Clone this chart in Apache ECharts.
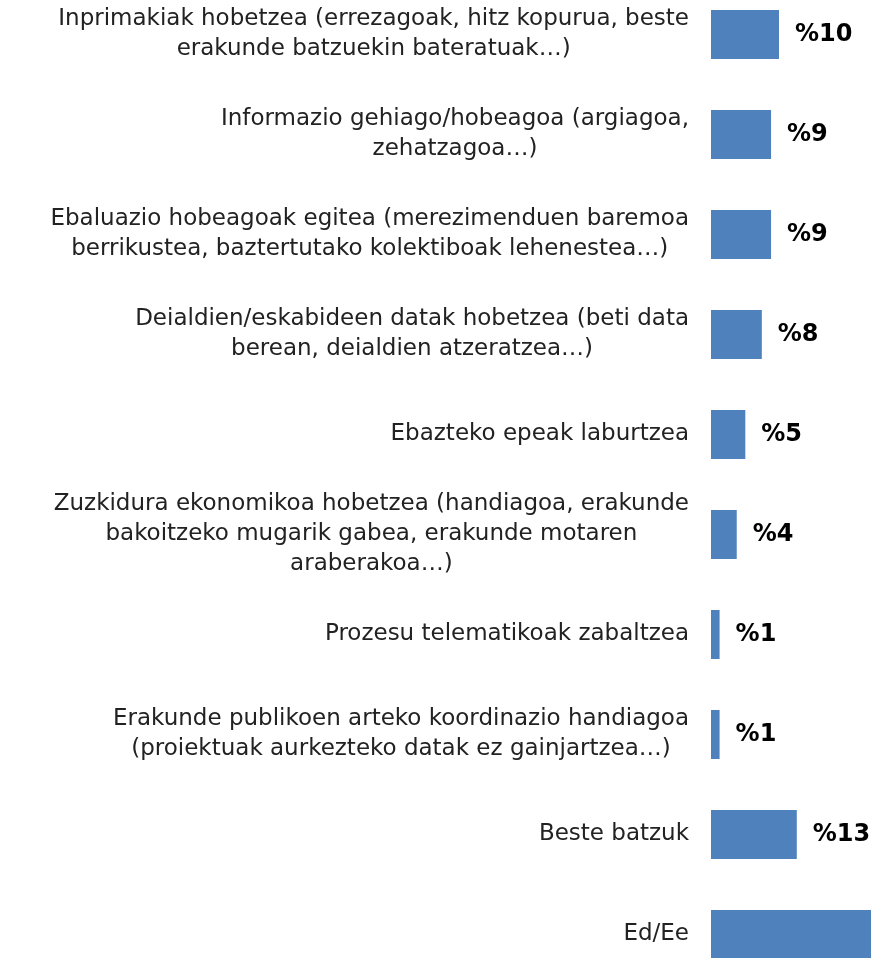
<!DOCTYPE html>
<html>
<head>
<meta charset="utf-8">
<script src="https://cdn.jsdelivr.net/npm/echarts@6/dist/echarts.min.js"></script>
<style>
  html, body { margin: 0; padding: 0; background: #fff; }
  #chart { width: 871px; height: 958px; }
</style>
</head>
<body>
<div id="chart"></div>
<script>
const categories = [
  "Inprimakiak hobetzea (errezagoak, hitz kopurua, beste\nerakunde batzuekin bateratuak…)",
  "Informazio gehiago/hobeagoa (argiagoa,\nzehatzagoa…)",
  "Ebaluazio hobeagoak egitea (merezimenduen baremoa\nberrikustea, baztertutako kolektiboak lehenestea…)",
  "Deialdien/eskabideen datak hobetzea (beti data\nberean, deialdien atzeratzea…)",
  "Ebazteko epeak laburtzea",
  "Zuzkidura ekonomikoa hobetzea (handiagoa, erakunde\nbakoitzeko mugarik gabea, erakunde motaren\naraberakoa…)",
  "Prozesu telematikoak zabaltzea",
  "Erakunde publikoen arteko koordinazio handiagoa\n(proiektuak aurkezteko datak ez gainjartzea…)",
  "Beste batzuk",
  "Ed/Ee"
];
const values = [10.3, 9.1, 9.1, 7.7, 5.2, 3.9, 1.3, 1.3, 13.0, 26];

const chart = echarts.init(document.getElementById("chart"));

chart.setOption({
  animation: false,
  grid: {
    left: 711, top: -15.5, width: 198, height: 1000,
    containLabel: false, outerBoundsMode: "none"
  },
  xAxis: {
    type: "value",
    min: 0,
    max: 30,
    show: false
  },
  yAxis: {
    type: "category",
    inverse: true,
    data: categories,
    axisLine: { show: false },
    axisTick: { show: false },
    splitLine: { show: false },
    axisLabel: {
      align: "right",
      margin: 22,
      formatter: (v) => v.split("\n").map((l) => "{c|" + l + "}").join("\n"),
      rich: {
        c: {
          align: "center",
          fontFamily: "DejaVu Sans",
          fontSize: 23,
          lineHeight: 30,
          color: "#222"
        }
      }
    }
  },
  series: [{
    type: "bar",
    data: values,
    barWidth: 49,
    itemStyle: { color: "#4f81bd" },
    label: {
      show: true,
      position: "right",
      distance: 16,
      fontFamily: "DejaVu Sans",
      fontWeight: "bold",
      fontSize: 24,
      color: "#000",
      formatter: (p) => "%" + Math.round(p.value)
    }
  }]
});
</script>
</body>
</html>
